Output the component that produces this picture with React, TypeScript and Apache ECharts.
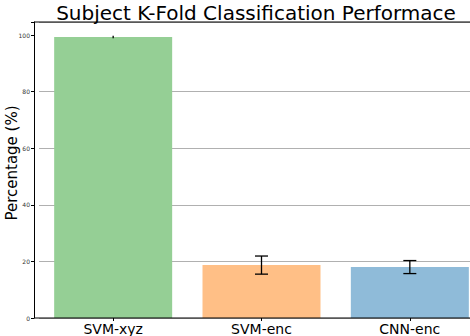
import React, { useEffect, useRef } from "react";
import * as echarts from "echarts";

const categories = ["SVM-xyz", "SVM-enc", "CNN-enc"];
const values = [99.3, 18.7, 18.0];
const errors = [0.4, 3.2, 2.3];
const barColors = ["#95cf95", "#ffbf86", "#8fbbd9"];
const yTicks = [0, 20, 40, 60, 80, 100];
const yAxisTitle = "Percentage (%)";

export default function App() {
  const ref = useRef<HTMLDivElement>(null);
  useEffect(() => {
    document.body.style.margin = "0";
    const chart = echarts.init(ref.current!, null, { renderer: "svg" });
    const font = "DejaVu Sans";
    chart.setOption({
      animation: false,
      textStyle: { fontFamily: font },
      title: {
        text: "Subject K-Fold Classification Performace",
        left: 251,
        top: -2,
        textAlign: "center",
        textStyle: { fontFamily: font, fontSize: 20, fontWeight: "normal", color: "#000" },
      },
      grid: { left: 39, width: 445, top: 22, height: 296, outerBoundsMode: "none", containLabel: false },
      xAxis: {
        type: "category",
        data: categories,
        axisLine: { show: false },
        axisTick: { show: true, alignWithLabel: true, length: 3, lineStyle: { color: "#000" } },
        axisLabel: { fontFamily: font, fontSize: 14, color: "#000", margin: 4 },
      },
      yAxis: {
        type: "value",
        min: 0,
        max: 104.6,
        interval: 20,
        offset: 5,
        axisLine: { show: true, lineStyle: { color: "#000", width: 1 } },
        axisTick: { show: true, length: 3, lineStyle: { color: "#000" } },
        axisLabel: {
          fontFamily: font,
          fontSize: 6,
          color: "#333",
          margin: 4,
          customValues: yTicks,
        },
        splitLine: {
          show: true,
          lineStyle: {
            color: ["#b0b0b0", "#b0b0b0", "#b0b0b0", "#b0b0b0", "#b0b0b0", "rgba(0,0,0,0)"],
            width: 1,
          },
        },
      },
      graphic: [
        { type: "line", shape: { x1: 34, y1: 22, x2: 470, y2: 22 }, style: { stroke: "#000", lineWidth: 1 }, z: 100 },
        { type: "line", shape: { x1: 34, y1: 318, x2: 470, y2: 318 }, style: { stroke: "#000", lineWidth: 1 }, z: 100 },
        {
          type: "text",
          x: 12,
          y: 163,
          rotation: Math.PI / 2,
          style: {
            text: yAxisTitle,
            fontFamily: font,
            fontSize: 15,
            fill: "#000",
            align: "center",
            verticalAlign: "middle",
          },
        },
      ],
      series: [
        {
          type: "bar",
          barWidth: 118,
          data: values.map((v, i) => ({ value: v, itemStyle: { color: barColors[i] } })),
          z: 2,
        },
        {
          type: "custom",
          z: 5,
          data: values.map((v, i) => [i, v, errors[i]]),
          renderItem: (params: any, api: any) => {
            const x = api.value(0);
            const v = api.value(1);
            const e = api.value(2);
            const top = api.coord([x, v + e]);
            const bot = api.coord([x, v - e]);
            const half = 6.5;
            const style = { stroke: "#000", lineWidth: 1.3 };
            const children: any[] = [
              { type: "line", shape: { x1: top[0], y1: top[1], x2: bot[0], y2: bot[1] }, style },
            ];
            if (e > 1) {
              children.push({ type: "line", shape: { x1: top[0] - half, y1: top[1], x2: top[0] + half, y2: top[1] }, style });
              children.push({ type: "line", shape: { x1: bot[0] - half, y1: bot[1], x2: bot[0] + half, y2: bot[1] }, style });
            }
            return { type: "group", children };
          },
        },
      ],
    });
    return () => chart.dispose();
  }, []);
  return <div ref={ref} style={{ width: 470, height: 336 }} />;
}
